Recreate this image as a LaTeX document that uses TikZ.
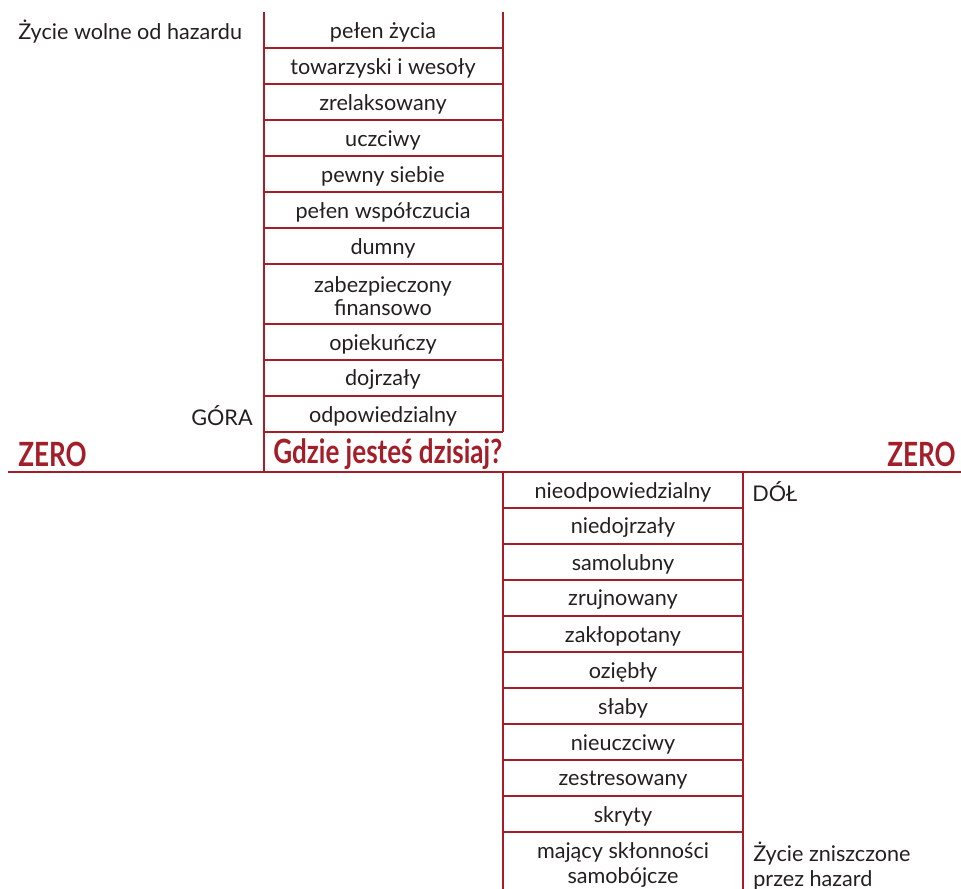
\documentclass[tikz,border=0pt]{standalone}
\usepackage{fontspec}
\setmainfont{Lato}
\newfontfamily\headfont[FakeStretch=0.78]{Lato Bold}
\definecolor{zeroRed}{RGB}{163,30,40}
\definecolor{txtGray}{RGB}{35,31,32}
\tikzset{
  redline/.style={draw=zeroRed, line width=0.85pt},
  axisline/.style={draw=zeroRed, line width=1.2pt},
  cell/.style={text=txtGray, font=\fontsize{12.3}{13.3}\selectfont, align=center, inner sep=0pt},
  side/.style={text=txtGray, font=\fontsize{12.3}{13.5}\selectfont, inner sep=0pt},
  head/.style={text=zeroRed, font=\fontsize{19}{22}\selectfont\headfont, inner sep=0pt}
}
\begin{document}
\begin{tikzpicture}[x=0.2mm, y=-0.2mm]
    \useasboundingbox (0,0) rectangle (961,889);

    % Axis
    \draw[axisline] (8,472) -- (961,472);

    % Upper column
    \draw[redline] (264,12) -- (264,472);
    \draw[redline] (503,12) -- (503,432);
    \foreach \y in {48,84,120,156,192,228,264,324,360,396,432}
      \draw[redline] (264,\y) -- (503,\y);

    % Lower column
    \draw[redline] (503,472) -- (503,889);
    \draw[redline] (743,472) -- (743,889);
    \foreach \y in {508,544,580,616,652,688,724,760,796,832}
      \draw[redline] (503,\y) -- (743,\y);

    % Upper traits
    \foreach \y/\t [count=\i] in {32/pełen życia, 68/towarzyski i wesoły, 104/zrelaksowany,
        140/uczciwy, 176/pewny siebie, 212/pełen współczucia, 248/dumny,
        296/{zabezpieczony\\finansowo}, 344/opiekuńczy, 380/dojrzały, 416/odpowiedzialny}
      \node[cell] (up\i) at (383,\y) {\t};

    % Lower traits
    \foreach \y/\t [count=\i] in {492/nieodpowiedzialny, 528/niedojrzały, 564/samolubny,
        600/zrujnowany, 636/zakłopotany, 672/oziębły, 708/słaby, 744/nieuczciwy,
        780/zestresowany, 816/skryty, 865/{mający skłonności\\[1pt]samobójcze}}
      \node[cell] (down\i) at (623,\y) {\t};

    % Labels
    \node[side, anchor=west] (free) at (18,32) {Życie wolne od hazardu};
    \node[side, anchor=east] (gora) at (253,416) {GÓRA};
    \node[side, anchor=west] (dol) at (752,492) {DÓŁ};
    \node[side, anchor=west, align=left] (ruined) at (753,866) {Życie zniszczone\\[1pt]przez hazard};
    \node[head, anchor=west] (zeroL) at (18,454) {ZERO};
    \node[head, anchor=east] (zeroR) at (956,454) {ZERO};
    \node[head, anchor=west] (today) at (273,454) {Gdzie jesteś dzisiaj?};

\end{tikzpicture}
\end{document}
